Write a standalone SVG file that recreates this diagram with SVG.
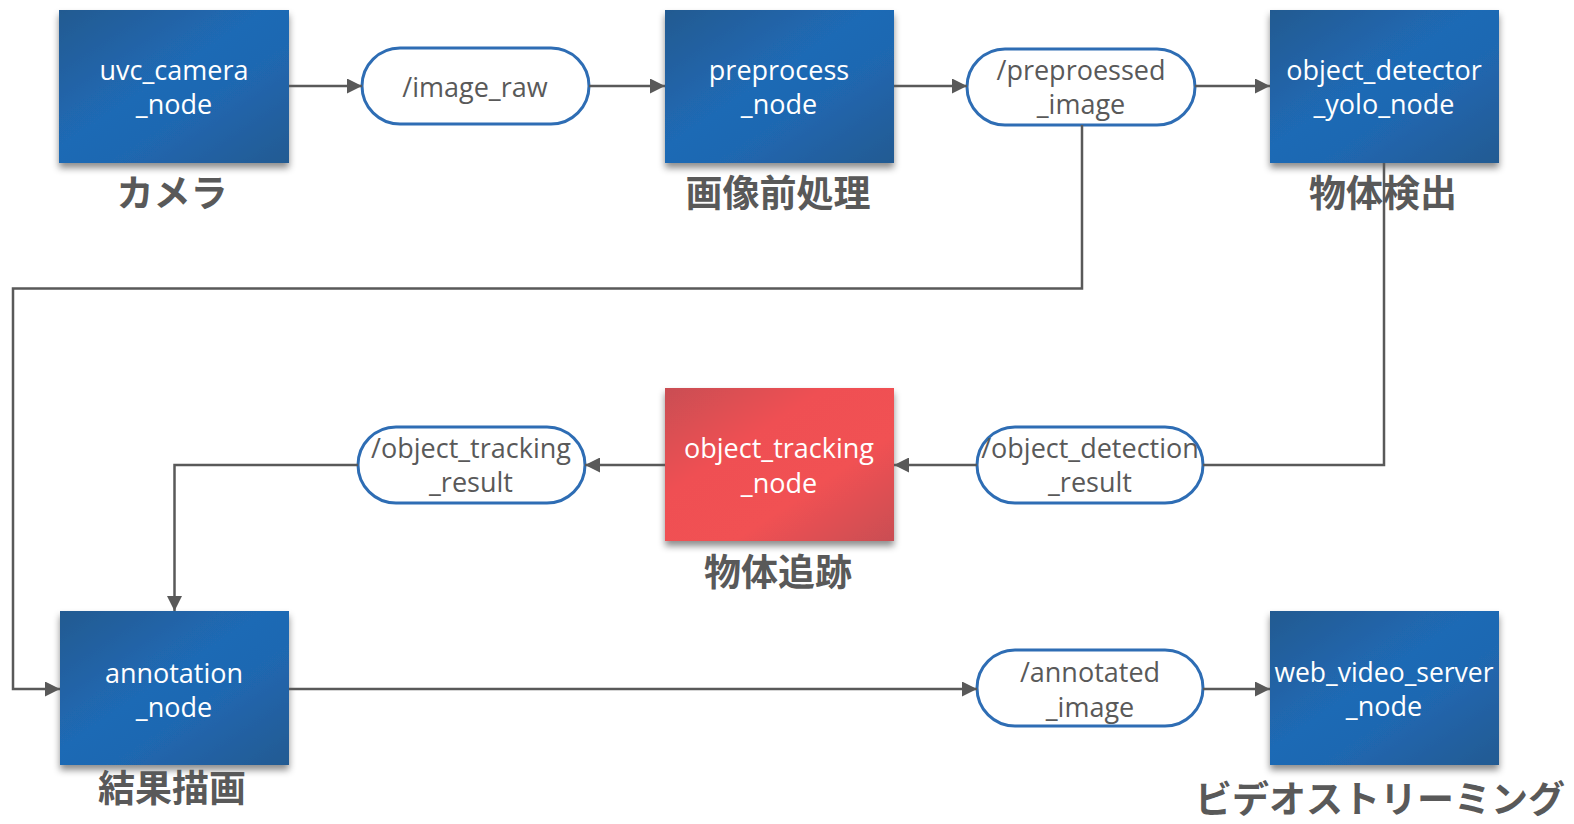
<svg xmlns="http://www.w3.org/2000/svg" width="1574" height="824" viewBox="0 0 1574 824">
<defs>
<linearGradient id="gBlue" x1="0" y1="0" x2="1" y2="1">
<stop offset="0" stop-color="#235a91"/>
<stop offset="0.45" stop-color="#1f6ab5"/>
<stop offset="0.6" stop-color="#1f68b2"/>
<stop offset="1" stop-color="#245a92"/>
</linearGradient>
<linearGradient id="gRed" x1="0" y1="0" x2="1" y2="1">
<stop offset="0" stop-color="#c94e53"/>
<stop offset="0.35" stop-color="#ef5052"/>
<stop offset="0.65" stop-color="#f15153"/>
<stop offset="1" stop-color="#c94e53"/>
</linearGradient>
<filter id="sh" x="-10%" y="-10%" width="125%" height="130%">
<feDropShadow dx="0" dy="5" stdDeviation="3.5" flood-color="#000" flood-opacity="0.45"/>
</filter>
<marker id="arr" viewBox="0 0 10 10" refX="10" refY="5" markerWidth="6" markerHeight="6" markerUnits="strokeWidth" orient="auto">
<path d="M0,0 L10,5 L0,10 z" fill="#595959"/>
</marker>
</defs>
<style>
.node{stroke:none;filter:url(#sh)}
.nt{font-family:"Open Sans","Noto Sans",sans-serif;font-size:27px;fill:#ffffff;text-anchor:middle}
.pill{fill:#ffffff;stroke:#2e6db4;stroke-width:3}
.pt{font-family:"Open Sans","Noto Sans",sans-serif;font-size:27px;fill:#595959;text-anchor:middle}
.lab{font-family:"Noto Sans CJK JP","Noto Sans CJK SC",sans-serif;font-weight:bold;font-size:37px;fill:#595959;text-anchor:middle}
.c{fill:none;stroke:#595959;stroke-width:2.5}
</style>
<rect width="1574" height="824" fill="#ffffff"/>

<g id="uvc_camera_node">
<rect class="node" x="59" y="10" width="230" height="153" fill="url(#gBlue)"/>
<text class="nt" x="174" y="80">uvc_camera</text>
<text class="nt" x="174" y="114">_node</text>
<text class="lab" x="172" y="207">カメラ</text>
</g>
<g id="image_raw">
<rect class="pill" x="362" y="48" width="227" height="76" rx="38"/>
<text class="pt" x="475" y="97">/image_raw</text>
</g>
<g id="preprocess_node">
<rect class="node" x="665" y="10" width="229" height="153" fill="url(#gBlue)"/>
<text class="nt" x="779" y="80">preprocess</text>
<text class="nt" x="779" y="114">_node</text>
<text class="lab" x="778" y="207">画像前処理</text>
</g>
<g id="preproessed_image">
<rect class="pill" x="967" y="49" width="228" height="76" rx="38"/>
<text class="pt" x="1081" y="80">/preproessed</text>
<text class="pt" x="1081" y="114">_image</text>
</g>
<g id="object_detector_yolo_node">
<rect class="node" x="1270" y="10" width="229" height="153" fill="url(#gBlue)"/>
<text class="nt" x="1384" y="80">object_detector</text>
<text class="nt" x="1384" y="114">_yolo_node</text>
<text class="lab" x="1383" y="207">物体検出</text>
</g>
<g id="object_detection_result">
<rect class="pill" x="977" y="427" width="226" height="76" rx="38"/>
<text class="pt" x="1090" y="458">/object_detection</text>
<text class="pt" x="1090" y="492">_result</text>
</g>
<g id="object_tracking_node">
<rect class="node" x="665" y="388" width="229" height="153" fill="url(#gRed)"/>
<text class="nt" x="779" y="458">object_tracking</text>
<text class="nt" x="779" y="493">_node</text>
<text class="lab" x="778" y="586">物体追跡</text>
</g>
<g id="object_tracking_result">
<rect class="pill" x="358" y="427" width="227" height="76" rx="38"/>
<text class="pt" x="471" y="458">/object_tracking</text>
<text class="pt" x="471" y="492">_result</text>
</g>
<g id="annotation_node">
<rect class="node" x="60" y="611" width="229" height="154" fill="url(#gBlue)"/>
<text class="nt" x="174" y="683">annotation</text>
<text class="nt" x="174" y="717">_node</text>
<text class="lab" x="172" y="802">結果描画</text>
</g>
<g id="annotated_image">
<rect class="pill" x="977" y="650" width="226" height="76" rx="38"/>
<text class="pt" x="1090" y="682">/annotated</text>
<text class="pt" x="1090" y="717">_image</text>
</g>
<g id="web_video_server_node">
<rect class="node" x="1270" y="611" width="229" height="154" fill="url(#gBlue)"/>
<text class="nt" x="1384" y="682" style="font-size:26.5px">web_video_server</text>
<text class="nt" x="1384" y="716">_node</text>
<text class="lab" x="1380" y="813">ビデオストリーミング</text>
</g>

<g id="connectors">
<path class="c" d="M289,86 L362,86" marker-end="url(#arr)"/>
<path class="c" d="M589,86 L665,86" marker-end="url(#arr)"/>
<path class="c" d="M894,86 L967,86" marker-end="url(#arr)"/>
<path class="c" d="M1195,86 L1270,86" marker-end="url(#arr)"/>
<path class="c" d="M1082,125 L1082,288.5 L13,288.5 L13,689 L60,689" marker-end="url(#arr)"/>
<path class="c" d="M1384,163 L1384,465 L1203,465"/>
<path class="c" d="M977,465 L894,465" marker-end="url(#arr)"/>
<path class="c" d="M665,465 L585,465" marker-end="url(#arr)"/>
<path class="c" d="M358,465 L174.5,465 L174.5,611" marker-end="url(#arr)"/>
<path class="c" d="M289,689 L977,689" marker-end="url(#arr)"/>
<path class="c" d="M1203,689 L1270,689" marker-end="url(#arr)"/>
</g>
</svg>
